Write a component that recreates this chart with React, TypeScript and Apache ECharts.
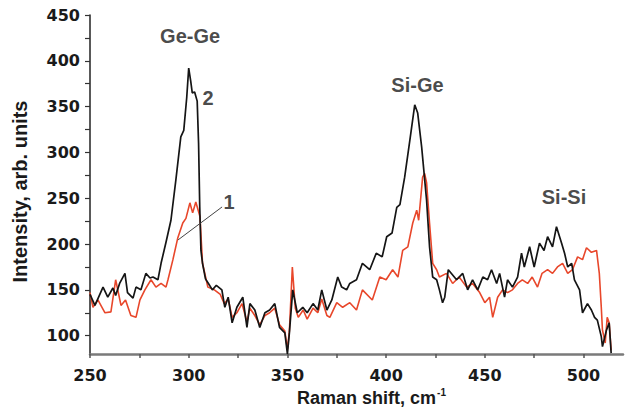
import React, { useEffect, useRef } from "react";
import * as echarts from "echarts";

// Curve 2 (black)
const shift2 = [250, 252.5, 256.6, 259, 261.6, 263, 265, 267.7, 269, 271.8, 273.3, 275.8, 278.3, 280.4, 281.9, 284.4, 286, 288.5, 291, 293.5, 296, 297.5, 299, 300, 301, 301.8, 303, 304.3, 305, 305.6, 306.2, 307, 308.5, 310, 312, 314, 316.8, 318.3, 320, 322, 324.4, 327.4, 329.5, 331, 333.5, 336, 338.6, 341, 343.6, 346, 348.7, 350, 351, 352.7, 355, 357.8, 360, 363, 365.4, 367.4, 370, 372.5, 375.5, 377.5, 380, 381.6, 385, 388, 391.7, 395, 398, 400.3, 403, 405.4, 407, 409.4, 412, 414.5, 416, 418, 420.5, 422, 423.6, 425.6, 427, 428.6, 429.7, 431.5, 435.7, 438.8, 441.3, 443.8, 446.4, 449, 451.4, 453.4, 456, 457.5, 460, 461.5, 464, 466.6, 468.6, 470, 472.7, 475, 477.7, 480, 481.8, 484.3, 486.3, 488.9, 490.4, 492, 494, 495.4, 498, 499.5, 502, 504, 505.6, 507, 509, 509.6, 511.6, 513, 514];
const intensity2 = [145, 133, 153, 142, 152, 144, 157, 168, 147, 141, 153, 150, 168, 163, 164, 161, 179, 202, 226, 270, 317, 324, 360, 392, 378, 365, 366, 356, 310, 240, 193, 179, 162, 157, 150, 155, 150, 131, 142, 114, 131, 142, 109, 135, 128, 109, 125, 128, 135, 109, 103, 80, 103, 150, 125, 131, 125, 135, 128, 150, 128, 139, 164, 153, 150, 157, 161, 179, 172, 190, 186, 208, 212, 240, 243, 273, 313, 352, 343, 306, 248, 197, 164, 161, 150, 136, 142, 172, 161, 168, 150, 161, 150, 164, 161, 172, 157, 168, 142, 161, 153, 164, 190, 175, 197, 175, 201, 193, 208, 197, 219, 201, 190, 175, 179, 161, 150, 125, 135, 128, 120, 117, 99, 88, 106, 114, 81];

// Curve 1 (red)
const shift1 = [250, 251.5, 254, 257.6, 260.6, 263, 265.7, 268, 270.7, 273.3, 275.3, 277.8, 280.9, 283.4, 286, 288.5, 289.5, 292, 294.5, 297, 298.6, 300.6, 302, 303.6, 305.7, 307, 309.7, 313, 316, 318, 320, 322, 324.4, 327, 329.5, 331, 333.5, 336, 338.6, 341, 343.6, 346, 348.7, 350, 351, 352.5, 354, 355.5, 358, 360, 363, 365.4, 367.4, 370, 371.5, 375, 378, 381.6, 385, 388, 393, 396.8, 400, 403.3, 406, 408.4, 411, 413.5, 415.5, 416.5, 418.5, 419.5, 420.5, 422, 423.6, 425.6, 427, 430.6, 433.7, 437, 440.8, 443.8, 447.4, 450, 452.4, 454, 456.5, 459, 461.5, 464, 466.6, 469, 471.7, 474, 476.7, 479, 481.8, 484.3, 486.8, 489.4, 492, 494.4, 497, 499.5, 501.5, 504, 506.6, 508, 509, 509.6, 511, 512, 513, 514];
const intensity1 = [147, 131, 139, 125, 126, 161, 133, 139, 122, 120, 139, 150, 161, 153, 157, 153, 161, 183, 207, 223, 228, 245, 234, 246, 230, 179, 153, 150, 145, 135, 140, 120, 125, 135, 115, 130, 122, 112, 122, 125, 130, 112, 105, 85, 105, 175, 130, 120, 128, 118, 130, 125, 140, 122, 120, 136, 131, 136, 128, 150, 139, 164, 161, 172, 164, 193, 197, 223, 237, 226, 273, 277, 267, 223, 179, 172, 164, 168, 157, 164, 153, 157, 147, 136, 142, 120, 142, 150, 147, 150, 157, 161, 157, 164, 153, 168, 172, 168, 175, 179, 168, 172, 186, 183, 196, 191, 193, 168, 131, 106, 92, 120, 114, 84];

// Peak / curve labels
const labelTexts = ["Ge-Ge", "Si-Ge", "Si-Si", "2", "1"];
const labelShift = [300.7, 415.9, 490.1, 309.8, 320.4];
const labelIntensity = [427, 374, 251, 359, 246];

// Leader line for curve 1
const leaderShift = [294.6, 316.9];
const leaderIntensity = [204.5, 240.5];

const xLabelValues = [250, 300, 350, 400, 450, 500];
const xTickValues = [250, 275, 300, 325, 350, 375, 400, 425, 450, 475, 500];
const yLabelValues = [100, 150, 200, 250, 300, 350, 400, 450];
const yTickValues = [100, 125, 150, 175, 200, 225, 250, 275, 300, 325, 350, 375, 400, 425, 450];

const zip = (a: number[], b: number[]) => a.map((v, i) => [v, b[i]]);

export default function App() {
  const ref = useRef<HTMLDivElement>(null);
  useEffect(() => {
    if (!ref.current) return;
    const chart = echarts.init(ref.current, undefined, { renderer: "svg" });
    const tickFont = { fontFamily: "DejaVu Sans", fontWeight: "bold" as const, fontSize: 16, color: "#1a1a1a" };
    chart.setOption({
      animation: false,
      backgroundColor: "#ffffff",
      grid: { left: 90, right: 3, top: 15, bottom: 58 },
      xAxis: {
        type: "value",
        min: 250,
        max: 520,
        name: "Raman shift, cm{sup|-1}",
        nameLocation: "middle",
        nameGap: 33,
        nameTextStyle: {
          fontFamily: "Liberation Sans",
          fontWeight: "bold",
          fontSize: 18,
          color: "#1a1a1a",
          padding: [0, 0, 0, 30],
          rich: {
            sup: { fontFamily: "Liberation Sans", fontWeight: "bold", fontSize: 10, color: "#1a1a1a", verticalAlign: "top", padding: [0, 0, 10, 1] },
          },
        },
        axisLine: { show: true, onZero: false, lineStyle: { color: "#7a7a7a", width: 2.5 } },
        axisTick: { show: true, customValues: xTickValues, length: 4, lineStyle: { color: "#555", width: 1.5 } },
        axisLabel: { customValues: xLabelValues, margin: 13, ...tickFont },
        splitLine: { show: false },
      },
      yAxis: {
        type: "value",
        min: 80,
        max: 450,
        name: "Intensity, arb. units",
        nameLocation: "middle",
        nameRotate: 90,
        nameGap: 60,
        nameTextStyle: {
          fontFamily: "Liberation Sans",
          fontWeight: "bold",
          fontSize: 20,
          color: "#1a1a1a",
          padding: [0, 14, 0, 0],
        },
        axisLine: { show: true, onZero: false, lineStyle: { color: "#222", width: 1.5 } },
        axisTick: { show: true, customValues: yTickValues, length: 5, lineStyle: { color: "#333", width: 1.2 } },
        axisLabel: { customValues: yLabelValues, margin: 10, ...tickFont },
        splitLine: { show: false },
      },
      series: [
        {
          name: "1",
          type: "line",
          data: zip(shift1, intensity1),
          symbol: "none",
          lineStyle: { color: "#e8472b", width: 1.6 },
          z: 2,
        },
        {
          name: "2",
          type: "line",
          data: zip(shift2, intensity2),
          symbol: "none",
          lineStyle: { color: "#151515", width: 1.7 },
          z: 3,
        },
        {
          name: "leader",
          type: "line",
          data: zip(leaderShift, leaderIntensity),
          symbol: "none",
          lineStyle: { color: "#444", width: 1 },
          z: 4,
        },
        {
          name: "labels",
          type: "scatter",
          symbolSize: 1,
          itemStyle: { color: "rgba(0,0,0,0)" },
          data: labelTexts.map((t, i) => ({ name: t, value: [labelShift[i], labelIntensity[i]] })),
          label: {
            show: true,
            position: "inside",
            formatter: "{b}",
            fontFamily: "Liberation Sans",
            fontWeight: "bold",
            fontSize: 20,
            color: "#1a1a1a",
          },
          z: 5,
        },
      ],
    });
    return () => chart.dispose();
  }, []);
  return <div ref={ref} style={{ position: "fixed", left: 0, top: 0, width: 626, height: 412, background: "#fff" }} />;
}
